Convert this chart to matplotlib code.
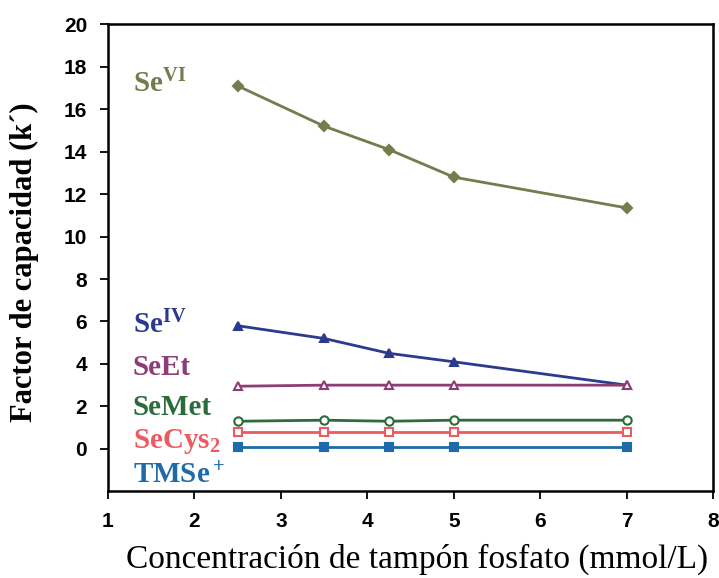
import matplotlib
matplotlib.use("Agg")
import matplotlib.pyplot as plt

plt.rcParams["mathtext.fontset"] = "custom"
plt.rcParams["mathtext.rm"] = "Liberation Serif:bold"
plt.rcParams["mathtext.it"] = "Liberation Serif:bold:italic"
plt.rcParams["mathtext.bf"] = "Liberation Serif:bold"

# Phosphate buffer concentration (mmol/L)
conc = [2.5, 3.5, 4.25, 5.0, 7.0]

# Capacity factor k' for each selenium species
se_vi = [17.1, 15.2, 14.1, 12.8, 11.35]
se_iv = [5.8, 5.2, 4.5, 4.1, 3.0]
se_et = [2.95, 3.0, 3.0, 3.0, 3.0]
se_met = [1.3, 1.35, 1.3, 1.35, 1.35]
se_cys2 = [0.8, 0.8, 0.8, 0.8, 0.8]
tmse = [0.1, 0.1, 0.1, 0.1, 0.1]

species_labels = [r"Se$^{\rm VI}$", r"Se$^{\rm IV}$", "SeEt", "SeMet",
                  r"SeCys$_{\rm 2}$", r"TMSe$^{\rm +}$"]
label_baseline = [16.8, 5.45, 3.5, 1.6, 0.05, -1.6]

x_ticks = [1, 2, 3, 4, 5, 6, 7, 8]
y_ticks = [0, 2, 4, 6, 8, 10, 12, 14, 16, 18, 20]

series = [
    (se_vi, "#767a4c", "D", "#767a4c", 5),
    (se_iv, "#2b3a8f", "^", "#2b3a8f", 6),
    (se_et, "#8c3d78", "^", "white", 6),
    (se_met, "#2b6b3c", "o", "white", 6),
    (se_cys2, "#ee5a62", "s", "white", 6),
    (tmse, "#1f6aa8", "s", "#1f6aa8", 6),
]

fig = plt.figure(figsize=(7.19, 5.78), dpi=100)
ax = fig.add_axes([0.150, 0.150, 0.842, 0.808])

for vals, col, mk, mfc, ms in series:
    ax.plot(conc, vals, color=col, lw=2.0, marker=mk, markersize=ms,
            markerfacecolor=mfc, markeredgecolor=col, markeredgewidth=1.5)

for (vals, col, *_), lab, ly in zip(series, species_labels, label_baseline):
    ax.text(1.29, ly, lab, color=col, fontsize=21, fontweight="bold",
            family="Liberation Serif", ha="left", va="baseline")

ax.set_xlim(1, 8)
ax.set_ylim(-2, 20)
ax.set_xticks(x_ticks)
ax.set_yticks(y_ticks)
ax.tick_params(direction="out", length=6, width=1.3, labelsize=15, pad=9)
for lab in ax.get_xticklabels() + ax.get_yticklabels():
    lab.set_fontfamily("Liberation Sans")
    lab.set_fontweight("bold")
for sp in ax.spines.values():
    sp.set_linewidth(1.8)

ax.set_ylabel("Factor de capacidad (k´)", fontsize=22, fontweight="bold",
              family="Liberation Serif")
ax.yaxis.set_label_coords(-0.113, 0.49)
ax.set_xlabel("Concentración de tampón fosfato (mmol/L)", fontsize=24,
              family="Liberation Serif")
ax.xaxis.set_label_coords(0.51, -0.112)

fig.savefig("out.png", dpi=100)
